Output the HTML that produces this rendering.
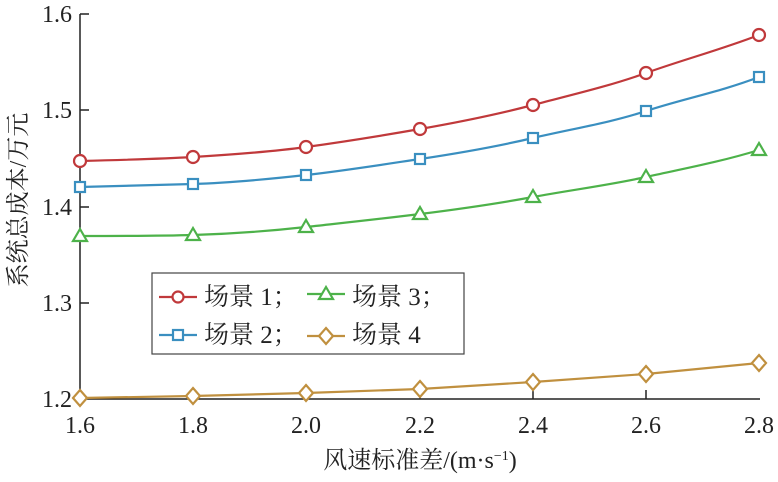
<!DOCTYPE html>
<html><head><meta charset="utf-8"><style>body{margin:0;background:#fff}</style></head><body>
<svg width="778" height="477" xmlns="http://www.w3.org/2000/svg" font-family="Liberation Serif, Noto Serif CJK SC, serif">
<rect width="778" height="477" fill="#fff"/>
<g stroke="#222" stroke-width="1.5" fill="none">
<path d="M80,14 V399 H760"/>
<path d="M80,14 h9 M80,110 h9 M80,207 h9 M80,303 h9"/>
<path d="M193,399 v-9 M306,399 v-9 M420,399 v-9 M533,399 v-9 M646,399 v-9"/>
</g>
<g font-size="24" fill="#222" text-anchor="end">
<text x="72" y="22">1.6</text><text x="72" y="118">1.5</text><text x="72" y="215">1.4</text><text x="72" y="311">1.3</text><text x="72" y="407">1.2</text>
</g>
<g font-size="24" fill="#222" text-anchor="middle">
<text x="80" y="433">1.6</text><text x="193" y="433">1.8</text><text x="306" y="433">2.0</text><text x="420" y="433">2.2</text><text x="533" y="433">2.4</text><text x="646" y="433">2.6</text><text x="759" y="433">2.8</text>
</g>
<text x="420" y="468" font-size="24" text-anchor="middle" fill="#222">风速标准差/(m·s<tspan dy="-8" font-size="14">−1</tspan><tspan dy="8">)</tspan></text>
<text transform="translate(26,200) rotate(-90)" font-size="24" text-anchor="middle" fill="#222">系统总成本/万元</text>
<g fill="#fff" stroke-width="2.2">
<path fill="none" stroke="#c0393b" d="M80,161 C120,160 160,159 193,157 S270,152 306,147 S380,136 420,129 S495,115 533,105 S610,86 646,73 S720,50 759,35"/>
<g stroke="#c0393b"><circle cx="80" cy="161" r="6"/><circle cx="193" cy="157" r="6"/><circle cx="306" cy="147" r="6"/><circle cx="420" cy="129" r="6"/><circle cx="533" cy="105" r="6"/><circle cx="646" cy="73" r="6"/><circle cx="759" cy="35" r="6"/></g>
<path fill="none" stroke="#3a8fc0" d="M80,187 C120,186 160,185 193,184 S270,179 306,175 S380,165 420,159 S495,147 533,138 S610,123 646,111 S720,92 759,77"/>
<g stroke="#3a8fc0"><rect x="75" y="182" width="10" height="10"/><rect x="188" y="179" width="10" height="10"/><rect x="301" y="170" width="10" height="10"/><rect x="415" y="154" width="10" height="10"/><rect x="528" y="133" width="10" height="10"/><rect x="641" y="106" width="10" height="10"/><rect x="754" y="72" width="10" height="10"/></g>
<path fill="none" stroke="#4db24a" d="M80,236 C120,236 160,236 193,235 S270,231 306,227 S380,219 420,214 S495,204 533,197 S610,185 646,177 S720,162 759,150"/>
<g stroke="#4db24a"><path d="M80,229 l7,12 h-14z M193,228 l7,12 h-14z M306,220 l7,12 h-14z M420,207 l7,12 h-14z M533,190 l7,12 h-14z M646,170 l7,12 h-14z M759,143 l7,12 h-14z"/></g>
<polyline fill="none" stroke="#c0903f" points="80,398 193,396 306,393 420,389 533,382 646,374 759,363"/>
<g stroke="#c0903f"><path d="M80,390 l7,8 -7,8 -7,-8z M193,388 l7,8 -7,8 -7,-8z M306,385 l7,8 -7,8 -7,-8z M420,381 l7,8 -7,8 -7,-8z M533,374 l7,8 -7,8 -7,-8z M646,366 l7,8 -7,8 -7,-8z M759,355 l7,8 -7,8 -7,-8z"/></g>
</g>
<rect x="152" y="273" width="312" height="81" fill="#fff" stroke="#444" stroke-width="1.2"/>
<g stroke-width="2.2" fill="#fff">
<path d="M159,297 h38" stroke="#c0393b"/><circle cx="178" cy="297" r="5.5" stroke="#c0393b"/>
<path d="M159,335 h38" stroke="#3a8fc0"/><rect x="173" y="330" width="10" height="10" stroke="#3a8fc0"/>
<path d="M307,294 h38" stroke="#4db24a"/><path d="M326,287 l7,12 h-14z" stroke="#4db24a"/>
<path d="M307,336 h38" stroke="#c0903f"/><path d="M326,328 l7,8 -7,8 -7,-8z" stroke="#c0903f"/>
</g>
<g font-size="25" fill="#222">
<text x="204" y="305">场景 1；</text><text x="204" y="343">场景 2；</text>
<text x="352" y="305">场景 3；</text><text x="352" y="343">场景 4</text>
</g>
</svg>
</body></html>
